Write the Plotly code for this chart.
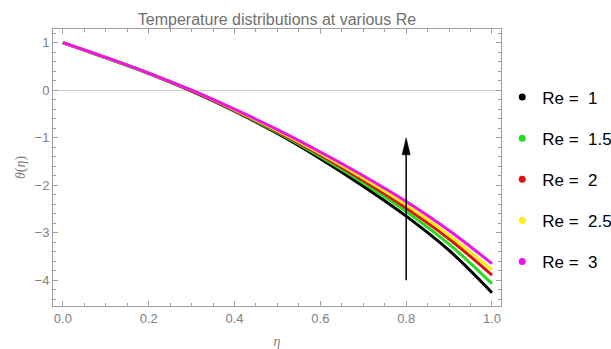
import plotly.graph_objects as go

eta = [0.0, 0.1, 0.2, 0.3, 0.4, 0.5, 0.6, 0.7, 0.8, 0.9, 1.0]
re_labels = ["Re =  1", "Re =  1.5", "Re =  2", "Re =  2.5", "Re =  3"]
theta_re1 = [1.00, 0.68, 0.35, -0.02, -0.44, -0.91, -1.44, -2.02, -2.65, -3.37, -4.26]
theta_re15 = [1.00, 0.68, 0.35, -0.01, -0.43, -0.89, -1.40, -1.95, -2.55, -3.24, -4.07]
theta_re2 = [1.00, 0.69, 0.36, -0.01, -0.42, -0.87, -1.36, -1.90, -2.48, -3.13, -3.89]
theta_re25 = [1.00, 0.69, 0.36, 0.00, -0.41, -0.85, -1.33, -1.85, -2.41, -3.05, -3.78]
theta_re3 = [1.00, 0.69, 0.36, 0.00, -0.40, -0.83, -1.30, -1.80, -2.34, -2.95, -3.65]
series = [theta_re1, theta_re15, theta_re2, theta_re25, theta_re3]
colors = ["#000000", "#22dd22", "#dd1111", "#ffee11", "#ee11ee"]

arrow_x = 0.8
arrow_from = -4.0
arrow_to = -1.0
head_len = 0.36
head_half = 0.0095

fig = go.Figure()
for lab, ys, c in zip(re_labels, series, colors):
    fig.add_trace(go.Scatter(x=eta, y=ys, mode="lines", line=dict(color=c, width=3, shape="spline"),
                             showlegend=False, hoverinfo="skip"))
for i, (lab, c) in enumerate(zip(re_labels, colors)):
    fig.add_trace(go.Scatter(x=[None], y=[None], mode="markers", marker=dict(color=c, size=7),
                             name=lab, legendgroup=str(i), showlegend=True))

# arrow: shaft + filled head
fig.add_shape(type="line", x0=arrow_x, x1=arrow_x, y0=arrow_from, y1=arrow_to - head_len * 0.8,
              xref="x", yref="y", line=dict(color="#000000", width=1.5))
fig.add_shape(type="path", xref="x", yref="y",
              path=f"M {arrow_x - head_half},{arrow_to - head_len} L {arrow_x},{arrow_to} "
                   f"L {arrow_x + head_half},{arrow_to - head_len} Z",
              fillcolor="#000000", line=dict(color="#000000", width=0.5))

axis_common = dict(showline=True, linecolor="#a0a0a0", linewidth=1, mirror="ticks",
                   ticks="inside", ticklen=5, tickcolor="#a0a0a0", showgrid=False,
                   tickfont=dict(family="Liberation Sans, Arial", size=13, color="#808080"))
fig.update_xaxes(range=[-0.023, 1.021], tickvals=[0, 0.2, 0.4, 0.6, 0.8, 1.0],
                 ticktext=["0.0", "0.2", "0.4", "0.6", "0.8", "1.0"], zeroline=False,
                 minor=dict(dtick=0.05, ticks="inside", ticklen=3, tickcolor="#a0a0a0"),
                 title=dict(text="<i>η</i>", standoff=14,
                            font=dict(family="Liberation Serif, Times New Roman", size=14, color="#808080")),
                 **axis_common)
fig.update_yaxes(range=[-4.54, 1.288], tickvals=[1, 0, -1, -2, -3, -4], zeroline=True,
                 zerolinecolor="#cccccc", zerolinewidth=1,
                 minor=dict(dtick=0.2, ticks="inside", ticklen=3, tickcolor="#a0a0a0"),
                 title=dict(text="<i>θ</i>(<i>η</i>)", standoff=5,
                            font=dict(family="Liberation Serif, Times New Roman", size=14, color="#808080")),
                 **axis_common)

fig.update_layout(
    width=611, height=349, margin=dict(l=53, r=110, t=29, b=43, autoexpand=False),
    paper_bgcolor="white", plot_bgcolor="white",
    title=dict(text="Temperature distributions at various Re", x=0.5, xref="paper", y=0.945, yanchor="middle",
               font=dict(family="Liberation Sans, Arial", size=16, color="#707070")),
    legend=dict(xref="container", yref="container", x=0.822, y=0.772, xanchor="left", yanchor="top",
                traceorder="grouped", tracegroupgap=16, maxheight=1.0,
                font=dict(family="Liberation Sans, Arial", size=17, color="#000000"),
                bgcolor="rgba(0,0,0,0)"),
)
fig.write_html("out.html")
